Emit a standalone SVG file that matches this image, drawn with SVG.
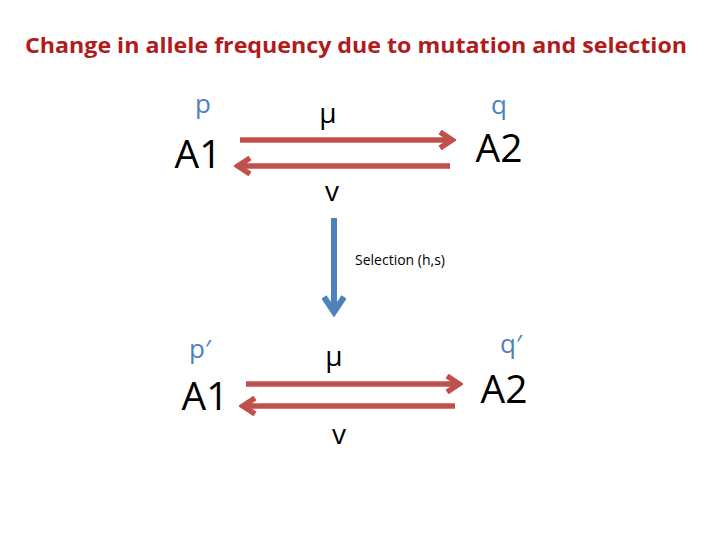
<svg xmlns="http://www.w3.org/2000/svg" width="720" height="540" viewBox="0 0 720 540">
<defs>
<style>
.t{font-family:"Open Sans","Liberation Sans",sans-serif;}
.title{font-weight:bold;font-size:22px;fill:#b01c1c;}
.big{font-size:39px;fill:#000;}
.greek{font-size:28px;fill:#000;}
.freq{font-size:26px;fill:#4f81bd;}
.small{font-size:14px;fill:#000;}
.red{stroke:#c0504d;stroke-width:5.5;fill:none;stroke-linecap:butt;}
.blue{stroke:#4f81bd;stroke-width:6;fill:none;}
</style>
<marker id="hr" markerUnits="userSpaceOnUse" viewBox="0 0 20 20" refX="17" refY="10" markerWidth="20" markerHeight="20" orient="auto">
<path d="M4,2 L16,10 L4,18" fill="none" stroke="#c0504d" stroke-width="5.5" stroke-linejoin="miter"/>
</marker>
<marker id="hb" markerUnits="userSpaceOnUse" viewBox="0 0 24 24" refX="20" refY="12" markerWidth="24" markerHeight="24" orient="auto">
<path d="M4,2 L19,12 L4,22" fill="none" stroke="#4f81bd" stroke-width="6"/>
</marker>
</defs>
<rect width="720" height="540" fill="#fff"/>
<text class="t title" x="356" y="53" text-anchor="middle" textLength="662" lengthAdjust="spacingAndGlyphs">Change in allele frequency due to mutation and selection</text>
<g id="connectors">
<line class="red" x1="240" y1="140" x2="453" y2="140" marker-end="url(#hr)"/>
<line class="red" x1="450" y1="166" x2="237" y2="166" marker-end="url(#hr)"/>
<line class="blue" x1="334" y1="218" x2="334" y2="313" marker-end="url(#hb)"/>
<line class="red" x1="246" y1="384" x2="460" y2="384" marker-end="url(#hr)"/>
<line class="red" x1="455" y1="406" x2="242" y2="406" marker-end="url(#hr)"/>
</g>
<g id="top-A1"><text class="t freq" x="203" y="113" text-anchor="middle">p</text><text class="t big" x="198" y="168" text-anchor="middle">A1</text></g>
<g id="top-A2"><text class="t freq" x="499" y="114" text-anchor="middle">q</text><text class="t big" x="499" y="162" text-anchor="middle">A2</text></g>
<g id="top-rates"><text class="t greek" x="328" y="123" text-anchor="middle">μ</text><text class="t greek" x="332" y="201" text-anchor="middle">v</text></g>
<g id="selection"><text class="t small" x="355" y="265">Selection (h,s)</text></g>
<g id="bot-A1"><text class="t freq" x="200" y="358" text-anchor="middle">p′</text><text class="t big" x="205" y="410" text-anchor="middle">A1</text></g>
<g id="bot-A2"><text class="t freq" x="511" y="353" text-anchor="middle">q′</text><text class="t big" x="504" y="403" text-anchor="middle">A2</text></g>
<g id="bot-rates"><text class="t greek" x="334" y="366" text-anchor="middle">μ</text><text class="t greek" x="339" y="444" text-anchor="middle">v</text></g>
</svg>
